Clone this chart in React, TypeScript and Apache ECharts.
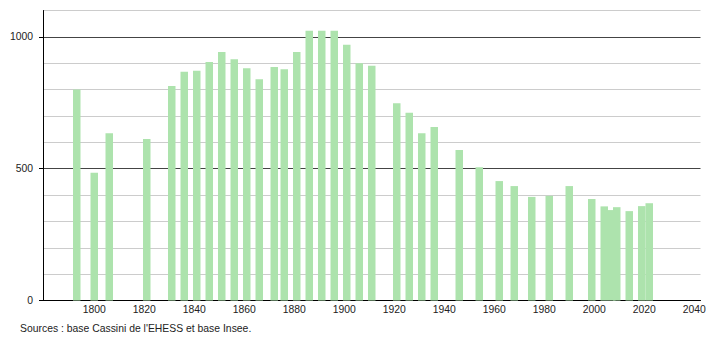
import React, { useEffect, useRef } from "react";
import * as echarts from "echarts";

const years = [
  1793, 1800, 1806, 1821, 1831, 1836, 1841, 1846, 1851, 1856, 1861, 1866, 1872,
  1876, 1881, 1886, 1891, 1896, 1901, 1906, 1911, 1921, 1926, 1931, 1936, 1946,
  1954, 1962, 1968, 1975, 1982, 1990, 1999, 2004, 2007, 2009, 2014, 2019, 2022,
];
const population = [
  800, 485, 634, 613, 814, 868, 871, 905, 943, 915, 881, 839, 886,
  877, 943, 1023, 1023, 1023, 970, 900, 890, 748, 712, 634, 658, 571,
  505, 453, 434, 393, 397, 434, 385, 357, 343, 354, 339, 358, 369,
];
const xTickLabels = [1800, 1820, 1840, 1860, 1880, 1900, 1920, 1940, 1960, 1980, 2000, 2020, 2040];
const yTickLabels = [0, 500, 1000];
const sourceText = "Sources : base Cassini de l'EHESS et base Insee.";

const FONT = "'Liberation Sans', Arial, sans-serif";
const FS = 10.4;

export default function App() {
  const ref = useRef<HTMLDivElement>(null);
  useEffect(() => {
    if (!ref.current) return;
    const chart = echarts.init(ref.current, null, { renderer: "svg" });
    chart.setOption({
      animation: false,
      grid: { left: 43, right: 9.5, top: 10.5, bottom: 39.5, containLabel: false },
      xAxis: {
        type: "value",
        min: 1779.5,
        max: 2042.5,
        axisLine: { show: true, lineStyle: { color: "#000", width: 1 } },
        axisTick: { show: false },
        splitLine: { show: false },
        axisLabel: {
          customValues: xTickLabels,
          color: "#222",
          fontFamily: FONT,
          fontSize: FS,
          margin: 4,
          formatter: (v: number) => String(v),
        },
      },
      yAxis: [
        {
          type: "value",
          min: 0,
          max: 1100,
          interval: 100,
          axisLine: { show: false },
          axisTick: { show: false },
          axisLabel: { show: false },
          splitLine: {
            show: true,
            lineStyle: {
              color: ["#444", "#cccccc", "#cccccc", "#cccccc", "#cccccc"],
              width: 1,
            },
          },
        },
        {
          type: "value",
          position: "left",
          min: 0,
          max: 1100,
          axisLine: { show: true, lineStyle: { color: "#000", width: 1 } },
          axisTick: {
            show: true,
            customValues: yTickLabels,
            length: 4,
            lineStyle: { color: "#000" },
          },
          axisLabel: {
            customValues: yTickLabels,
            color: "#222",
            fontFamily: FONT,
            fontSize: FS,
            margin: 10,
            formatter: (v: number) => String(v),
          },
          splitLine: { show: false },
        },
      ],
      series: [
        {
          type: "bar",
          yAxisIndex: 0,
          data: years.map((y, i) => [y, population[i]]),
          barWidth: 7.5,
          itemStyle: { color: "#ade3ad" },
        },
      ],
      graphic: [
        {
          type: "text",
          left: 20,
          top: 323,
          style: {
            text: sourceText,
            fill: "#222",
            font: `${FS}px ${FONT}`,
          },
        },
      ],
    });
    return () => chart.dispose();
  }, []);
  return (
    <div
      ref={ref}
      style={{ position: "fixed", left: 0, top: 0, width: 710, height: 340, background: "#fff" }}
    />
  );
}
